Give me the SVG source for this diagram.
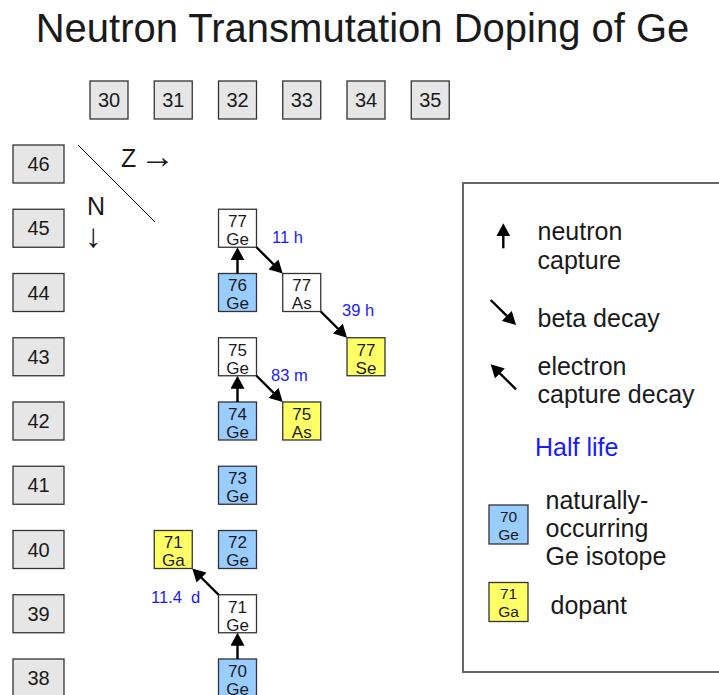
<svg xmlns="http://www.w3.org/2000/svg" width="719" height="695" viewBox="0 0 719 695">
<style>
text{font-family:"Liberation Sans",Arial,sans-serif;fill:#1a1a1a}
.title{font-size:40px}
.hdr{fill:#e6e6e6;stroke:#333;stroke-width:1.3}
.hn{font-size:20px;text-anchor:middle}
.nb{stroke:#333;stroke-width:1.3}
.w{fill:#ffffff}
.b{fill:#99ccff}
.y{fill:#ffff66}
.nt{font-size:17px;text-anchor:middle}
.lt{font-size:15.5px;text-anchor:middle}
.hl{font-size:16.5px;fill:#1a1aff}
.big{font-size:25px}
.arr{stroke:#000;stroke-width:2.4;fill:none;marker-end:url(#ah)}
</style>
<defs>
<marker id="ah" markerUnits="userSpaceOnUse" markerWidth="13" markerHeight="14" viewBox="0 0 13 14" refX="9" refY="7" orient="auto">
<path d="M0,0 L13,7 L0,14 z" fill="#000"/>
</marker>
</defs>
<rect width="719" height="695" fill="#fff"/>
<text class="title" x="362.5" y="42" text-anchor="middle">Neutron Transmutation Doping of Ge</text>

<g id="z-axis">
<g id="z30"><rect class="hdr" x="90" y="81" width="38" height="38"/><text class="hn" x="109" y="107">30</text></g>
<g id="z31"><rect class="hdr" x="154.25" y="81" width="38" height="38"/><text class="hn" x="173.25" y="107">31</text></g>
<g id="z32"><rect class="hdr" x="218.5" y="81" width="38" height="38"/><text class="hn" x="237.5" y="107">32</text></g>
<g id="z33"><rect class="hdr" x="282.75" y="81" width="38" height="38"/><text class="hn" x="301.75" y="107">33</text></g>
<g id="z34"><rect class="hdr" x="347" y="81" width="38" height="38"/><text class="hn" x="366" y="107">34</text></g>
<g id="z35"><rect class="hdr" x="411.25" y="81" width="38" height="38"/><text class="hn" x="430.25" y="107">35</text></g>
</g>

<g id="n-axis">
<g id="n46"><rect class="hdr" x="13" y="145" width="51" height="38"/><text class="hn" x="38.5" y="171">46</text></g>
<g id="n45"><rect class="hdr" x="13" y="209.25" width="51" height="38"/><text class="hn" x="38.5" y="235.25">45</text></g>
<g id="n44"><rect class="hdr" x="13" y="273.5" width="51" height="38"/><text class="hn" x="38.5" y="299.5">44</text></g>
<g id="n43"><rect class="hdr" x="13" y="337.75" width="51" height="38"/><text class="hn" x="38.5" y="363.75">43</text></g>
<g id="n42"><rect class="hdr" x="13" y="402" width="51" height="38"/><text class="hn" x="38.5" y="428">42</text></g>
<g id="n41"><rect class="hdr" x="13" y="466.25" width="51" height="38"/><text class="hn" x="38.5" y="492.25">41</text></g>
<g id="n40"><rect class="hdr" x="13" y="530.5" width="51" height="38"/><text class="hn" x="38.5" y="556.5">40</text></g>
<g id="n39"><rect class="hdr" x="13" y="594.75" width="51" height="38"/><text class="hn" x="38.5" y="620.75">39</text></g>
<g id="n38"><rect class="hdr" x="13" y="659" width="51" height="38"/><text class="hn" x="38.5" y="685">38</text></g>
</g>

<g id="axis-label">
<line x1="78" y1="145" x2="155" y2="222" stroke="#000" stroke-width="1"/>
<text class="big" x="121" y="167">Z<tspan x="140" y="167.5" font-size="35">→</tspan></text>
<text class="big" x="87" y="215">N</text>
<text x="85" y="247" font-size="33">↓</text>
</g>

<g id="ge77"><rect class="nb w" x="218.5" y="209.25" width="38" height="38"/><text class="nt" x="237.5" y="227">77</text><text class="nt" x="237.5" y="245">Ge</text></g>
<g id="ge76"><rect class="nb b" x="218.5" y="273.5" width="38" height="38"/><text class="nt" x="237.5" y="291.25">76</text><text class="nt" x="237.5" y="309.25">Ge</text></g>
<g id="as77"><rect class="nb w" x="282.75" y="273.5" width="38" height="38"/><text class="nt" x="301.75" y="291.25">77</text><text class="nt" x="301.75" y="309.25">As</text></g>
<g id="se77"><rect class="nb y" x="347" y="337.75" width="38" height="38"/><text class="nt" x="366" y="355.5">77</text><text class="nt" x="366" y="373.5">Se</text></g>
<g id="ge75"><rect class="nb w" x="218.5" y="337.75" width="38" height="38"/><text class="nt" x="237.5" y="355.5">75</text><text class="nt" x="237.5" y="373.5">Ge</text></g>
<g id="ge74"><rect class="nb b" x="218.5" y="402" width="38" height="38"/><text class="nt" x="237.5" y="419.75">74</text><text class="nt" x="237.5" y="437.75">Ge</text></g>
<g id="as75"><rect class="nb y" x="282.75" y="402" width="38" height="38"/><text class="nt" x="301.75" y="419.75">75</text><text class="nt" x="301.75" y="437.75">As</text></g>
<g id="ge73"><rect class="nb b" x="218.5" y="466.25" width="38" height="38"/><text class="nt" x="237.5" y="484">73</text><text class="nt" x="237.5" y="502">Ge</text></g>
<g id="ge72"><rect class="nb b" x="218.5" y="530.5" width="38" height="38"/><text class="nt" x="237.5" y="548.25">72</text><text class="nt" x="237.5" y="566.25">Ge</text></g>
<g id="ga71"><rect class="nb y" x="154.25" y="530.5" width="38" height="38"/><text class="nt" x="173.25" y="548.25">71</text><text class="nt" x="173.25" y="566.25">Ga</text></g>
<g id="ge71"><rect class="nb w" x="218.5" y="594.75" width="38" height="38"/><text class="nt" x="237.5" y="612.5">71</text><text class="nt" x="237.5" y="630.5">Ge</text></g>
<g id="ge70"><rect class="nb b" x="218.5" y="659" width="38" height="38"/><text class="nt" x="237.5" y="676.75">70</text><text class="nt" x="237.5" y="694.5">Ge</text></g>

<g id="connectors">
<line class="arr" x1="237.5" y1="273.5" x2="237.5" y2="251.25"/>
<line class="arr" x1="256.5" y1="247.25" x2="279.9" y2="270.7"/>
<line class="arr" x1="320.75" y1="311.5" x2="344.2" y2="334.9"/>
<line class="arr" x1="237.5" y1="402" x2="237.5" y2="379.75"/>
<line class="arr" x1="256.5" y1="375.75" x2="279.9" y2="399.2"/>
<line class="arr" x1="237.5" y1="659" x2="237.5" y2="636.75"/>
<line class="arr" x1="218.5" y1="594.75" x2="195.1" y2="571.3"/>
</g>

<g id="half-lives">
<text class="hl" x="272" y="243">11 h</text>
<text class="hl" x="342" y="315.5">39 h</text>
<text class="hl" x="271" y="380.5">83 m</text>
<text class="hl" x="151" y="603" xml:space="preserve">11.4  d</text>
</g>

<g id="legend">
<rect x="463" y="183" width="300" height="489" fill="#fff" stroke="#666" stroke-width="2"/>
<line class="arr" x1="503.3" y1="248.3" x2="503.3" y2="227.3"/>
<text class="big" x="537.5" y="240">neutron</text>
<text class="big" x="537.5" y="268.5">capture</text>
<line class="arr" x1="490.7" y1="300" x2="513.2" y2="322.2"/>
<text class="big" x="537.5" y="327">beta decay</text>
<line class="arr" x1="516" y1="389.3" x2="493.5" y2="367.1"/>
<text class="big" x="537.5" y="374.5">electron</text>
<text class="big" x="537.5" y="403">capture decay</text>
<text class="big" x="535" y="456" style="fill:#1a1aff">Half life</text>
<g id="legend-natural"><rect class="nb b" x="489" y="505" width="39" height="39"/><text class="lt" x="508.5" y="521.5">70</text><text class="lt" x="508.5" y="540">Ge</text></g>
<text class="big" x="545.5" y="508.5">naturally-</text>
<text class="big" x="545.5" y="537">occurring</text>
<text class="big" x="545.5" y="565">Ge isotope</text>
<g id="legend-dopant"><rect class="nb y" x="489" y="582.5" width="39" height="39"/><text class="lt" x="508.5" y="598.5">71</text><text class="lt" x="508.5" y="617">Ga</text></g>
<text class="big" x="550.5" y="613.5">dopant</text>
</g>
</svg>
